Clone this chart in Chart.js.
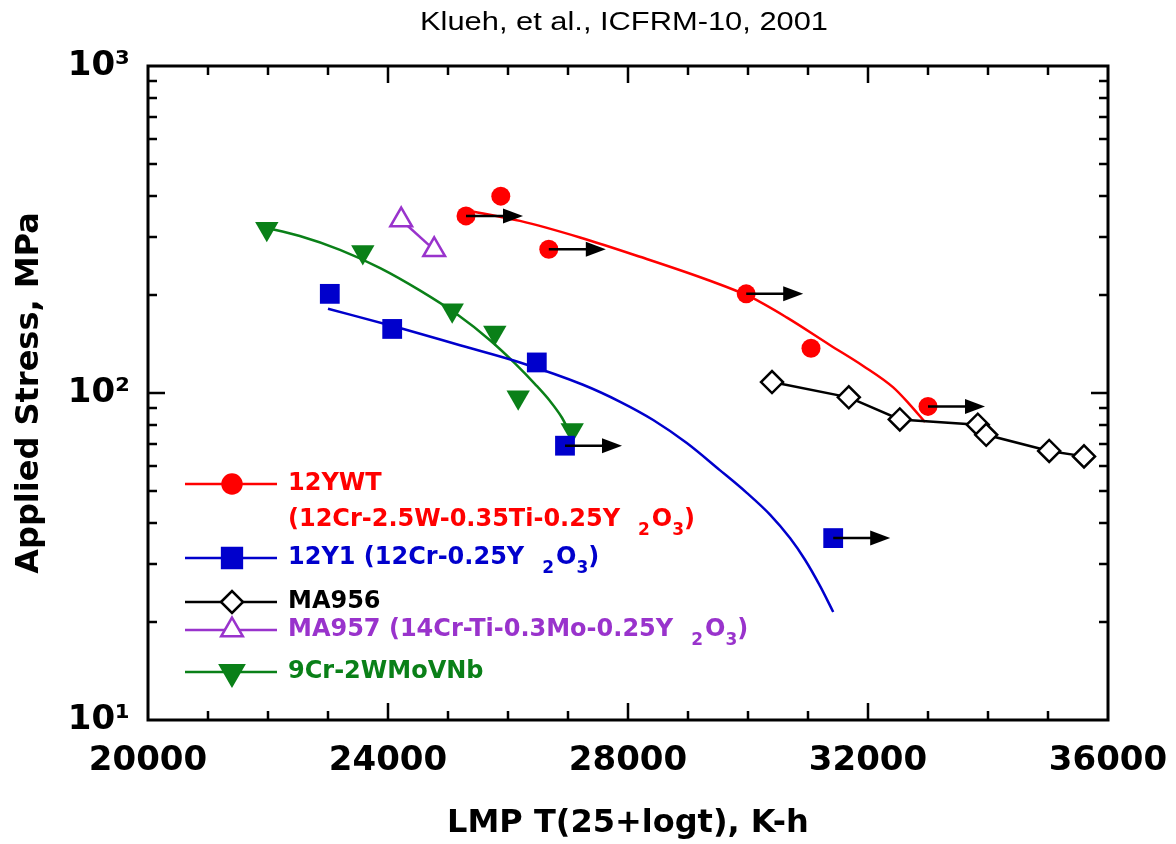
<!DOCTYPE html>
<html lang="en">
<head>
<meta charset="UTF-8">
<title>Klueh, et al., ICFRM-10, 2001</title>
<script src="https://cdn.jsdelivr.net/npm/chart.js@4"></script>
<style>
  html, body { margin: 0; padding: 0; background: #fff; }
</style>
</head>
<body>
<canvas id="myChart" width="1176" height="844"></canvas>
<script>
// données (LMP en K-h, contrainte en MPa)
const ywtLmp = [25300, 25880, 26680, 29970, 31050, 33000];
const ywtStress = [348, 400, 275, 201, 137, 91];
const ywtRunout = [1, 0, 1, 1, 0, 1];
const ywtFitLmp = [25280, 26200, 27200, 28200, 29320, 30030, 30650, 31370, 31920, 32420, 32700, 32950];
const ywtFitStress = [363, 336, 299, 261, 222, 197, 170, 140, 121, 104, 92, 81.5];

const y1Lmp = [23030, 24070, 26480, 26950, 31420];
const y1Stress = [201, 157, 124, 69, 36];
const y1Runout = [0, 0, 0, 1, 1];
const y1FitLmp = [23000, 24200, 25200, 26200, 27250, 27870, 28420, 28980, 29530, 29980, 30370, 30700, 30950, 31200, 31420];
const y1FitStress = [181, 158, 140, 124, 106, 94, 82.7, 70.3, 58.1, 49.5, 42.4, 36, 30.9, 25.7, 21.4];

const ma956Lmp = [30400, 31680, 32530, 33830, 33970, 35020, 35600];
const ma956Stress = [108, 97, 83, 80, 74.5, 66.5, 64];

const ma957Lmp = [24220, 24770];
const ma957Stress = [338, 274];

const cr9Lmp = [21980, 23580, 25070, 25780, 26170, 27070];
const cr9Stress = [318, 270, 179, 153, 97, 77];
const cr9FitLmp = [21900, 22530, 23200, 23870, 24530, 25150, 25700, 26120, 26450, 26700, 26900, 27030];
const cr9FitStress = [322, 302, 274, 241, 206, 174, 145, 123, 106.5, 94.5, 84, 75.5];

const xTicks = [20000, 24000, 28000, 32000, 36000];
const yTicks = [10, 100, 1000];
const yTickLabels = ['10\u00B9', '10\u00B2', '10\u00B3'];

const RED = '#ff0000', BLUE = '#0000cc', BLACK = '#000000', PURPLE = '#9933cc', GREEN = '#0a8018';
const BOLD = "'DejaVu Sans', sans-serif";

function pts(xs, ys) {
    return xs.map((x, i) => ({ x: x, y: ys[i] }));
}

// Cadre et graduations vers l'intérieur
const framePlugin = {
    id: 'frame',
    afterDraw(chart) {
        const { ctx, chartArea: a, scales: { x, y } } = chart;
        ctx.save();
        ctx.strokeStyle = '#000';
        ctx.lineWidth = 2.5;
        ctx.beginPath();
        for (let v = 21000; v < 36000; v += 1000) {
            const px = Math.round(x.getPixelForValue(v));
            const len = (v % 4000 === 0) ? 17 : 9;
            ctx.moveTo(px, a.bottom); ctx.lineTo(px, a.bottom - len);
            ctx.moveTo(px, a.top); ctx.lineTo(px, a.top + len);
        }
        for (let dec = 10; dec <= 100; dec *= 10) {
            for (let m = 1; m <= 9; m++) {
                const v = dec * m;
                if (v === 10) continue;
                const py = Math.round(y.getPixelForValue(v));
                const len = (m === 1) ? 17 : 9;
                ctx.moveTo(a.left, py); ctx.lineTo(a.left + len, py);
                ctx.moveTo(a.right, py); ctx.lineTo(a.right - len, py);
            }
        }
        ctx.stroke();
        ctx.lineWidth = 3;
        ctx.strokeRect(a.left, a.top, a.right - a.left, a.bottom - a.top);

        // titre, étiré à la largeur de l'original
        const title = 'Klueh, et al., ICFRM-10, 2001';
        ctx.fillStyle = '#000';
        ctx.font = "26px 'Liberation Sans', Arial, sans-serif";
        ctx.textAlign = 'center';
        ctx.textBaseline = 'middle';
        const w = ctx.measureText(title).width;
        ctx.translate(624, 23);
        ctx.scale(408 / w, 1);
        ctx.fillText(title, 0, 0);
        ctx.restore();
    }
};

// Flèches (essais non rompus)
const arrowPlugin = {
    id: 'arrows',
    afterDatasetsDraw(chart) {
        const { ctx, scales: { x, y } } = chart;
        const groups = [[ywtLmp, ywtStress, ywtRunout], [y1Lmp, y1Stress, y1Runout]];
        ctx.save();
        ctx.strokeStyle = '#000';
        ctx.fillStyle = '#000';
        ctx.lineWidth = 2.5;
        groups.forEach(([xs, ys, flags]) => {
            xs.forEach((v, i) => {
                if (!flags[i]) return;
                const x0 = x.getPixelForValue(v);
                const y0 = y.getPixelForValue(ys[i]);
                const x1 = x0 + 57;
                ctx.beginPath();
                ctx.moveTo(x0, y0); ctx.lineTo(x1 - 16, y0);
                ctx.stroke();
                ctx.beginPath();
                ctx.moveTo(x1, y0); ctx.lineTo(x1 - 20, y0 - 7.5); ctx.lineTo(x1 - 20, y0 + 7.5);
                ctx.closePath();
                ctx.fill();
            });
        });
        ctx.restore();
    }
};

// Légende dessinée dans la zone du graphique
function drawOxide(ctx, x, y, text, color) {
    ctx.fillStyle = color;
    ctx.font = 'bold 24px ' + BOLD;
    ctx.fillText(text, x, y);
    x += ctx.measureText(text).width + 18;
    ctx.font = 'bold 17px ' + BOLD;
    ctx.fillText('2', x, y + 11);
    x += ctx.measureText('2').width + 2;
    ctx.font = 'bold 24px ' + BOLD;
    ctx.fillText('O', x, y);
    x += ctx.measureText('O').width;
    ctx.font = 'bold 17px ' + BOLD;
    ctx.fillText('3', x, y + 11);
    x += ctx.measureText('3').width;
    ctx.font = 'bold 24px ' + BOLD;
    ctx.fillText(')', x, y);
}

const legendPlugin = {
    id: 'customLegend',
    afterDraw(chart) {
        const ctx = chart.ctx;
        const items = [
            { y: 484, color: RED, style: 'circle', r: 9.5, fill: RED, text: '12YWT' },
            { y: 558, color: BLUE, style: 'rect', r: 14, fill: BLUE, text: '12Y1 (12Cr-0.25Y', oxide: true },
            { y: 602, color: BLACK, style: 'rectRot', r: 11, fill: '#fff', text: 'MA956' },
            { y: 630, color: PURPLE, style: 'triangle', r: 12.5, fill: '#fff', text: 'MA957 (14Cr-Ti-0.3Mo-0.25Y', oxide: true },
            { y: 672, color: GREEN, style: 'triangle', r: 13.5, rot: 180, fill: GREEN, text: '9Cr-2WMoVNb' }
        ];
        ctx.save();
        ctx.textAlign = 'left';
        ctx.textBaseline = 'middle';
        items.forEach(it => {
            ctx.strokeStyle = it.color;
            ctx.lineWidth = 2.5;
            ctx.beginPath();
            ctx.moveTo(185, it.y); ctx.lineTo(277, it.y);
            ctx.stroke();
            ctx.fillStyle = it.fill;
            Chart.helpers.drawPoint(ctx, { pointStyle: it.style, radius: it.r, rotation: it.rot || 0, borderWidth: 2.5 }, 232, it.y);
            if (it.oxide) {
                drawOxide(ctx, 288, it.y, it.text, it.color);
            } else {
                ctx.fillStyle = it.color;
                ctx.font = 'bold 24px ' + BOLD;
                ctx.fillText(it.text, 288, it.y);
            }
        });
        drawOxide(ctx, 288, 520, '(12Cr-2.5W-0.35Ti-0.25Y', RED);
        ctx.restore();
    }
};

const fitLine = (data, color) => ({
    data: data, showLine: true, borderColor: color, borderWidth: 2.5,
    pointRadius: 0, cubicInterpolationMode: 'monotone', fill: false
});

const config = {
    type: 'scatter',
    data: {
        datasets: [
            { label: '12YWT', data: pts(ywtLmp, ywtStress), pointStyle: 'circle', pointRadius: 9.5,
              backgroundColor: RED, borderColor: RED, borderWidth: 0 },
            { label: '12Y1', data: pts(y1Lmp, y1Stress), pointStyle: 'rect', pointRadius: 14,
              backgroundColor: BLUE, borderColor: BLUE, borderWidth: 0 },
            { label: '9Cr-2WMoVNb', data: pts(cr9Lmp, cr9Stress), pointStyle: 'triangle', pointRadius: 13.5,
              rotation: 180, backgroundColor: GREEN, borderColor: GREEN, borderWidth: 0 },
            { label: 'MA956', data: pts(ma956Lmp, ma956Stress), showLine: true, pointStyle: 'rectRot', pointRadius: 11,
              backgroundColor: '#fff', borderColor: BLACK, borderWidth: 2.5, tension: 0 },
            { label: 'MA957', data: pts(ma957Lmp, ma957Stress), showLine: true, pointStyle: 'triangle', pointRadius: 12.5,
              backgroundColor: '#fff', borderColor: PURPLE, borderWidth: 2.5, tension: 0 },
            fitLine(pts(ywtFitLmp, ywtFitStress), RED),
            fitLine(pts(y1FitLmp, y1FitStress), BLUE),
            fitLine(pts(cr9FitLmp, cr9FitStress), GREEN)
        ]
    },
    options: {
        responsive: false,
        animation: false,
        devicePixelRatio: 1,
        layout: { padding: { top: 66, right: 68, left: 0, bottom: 0 } },
        plugins: { legend: { display: false }, tooltip: { enabled: false } },
        scales: {
            x: {
                type: 'linear', min: 20000, max: 36000,
                afterBuildTicks: s => { s.ticks = xTicks.map(v => ({ value: v })); },
                afterFit: s => { s.height = 124; s.paddingLeft = 0; s.paddingRight = 0; },
                grid: { display: false, drawTicks: false },
                border: { display: false },
                ticks: { color: '#000', padding: 21, maxRotation: 0,
                         font: { family: BOLD, size: 34, weight: 'bold' },
                         callback: v => String(v) },
                title: { display: true, text: 'LMP T(25+logt), K-h', color: '#000',
                         padding: { top: 0, bottom: 1 },
                         font: { family: BOLD, size: 32, weight: 'bold' } }
            },
            y: {
                type: 'logarithmic', min: 10, max: 1000,
                afterBuildTicks: s => { s.ticks = yTicks.map(v => ({ value: v })); },
                afterFit: s => { s.width = 148; s.paddingTop = 0; s.paddingBottom = 0; },
                grid: { display: false, drawTicks: false },
                border: { display: false },
                ticks: { color: '#000', padding: 18,
                         font: { family: BOLD, size: 34, weight: 'bold' },
                         callback: v => yTickLabels[yTicks.indexOf(v)] },
                title: { display: true, text: 'Applied Stress, MPa', color: '#000',
                         padding: { top: 10, bottom: 0 },
                         font: { family: BOLD, size: 32, weight: 'bold' } }
            }
        }
    },
    plugins: [arrowPlugin, framePlugin, legendPlugin]
};

new Chart(document.getElementById('myChart').getContext('2d'), config);
</script>
</body>
</html>
